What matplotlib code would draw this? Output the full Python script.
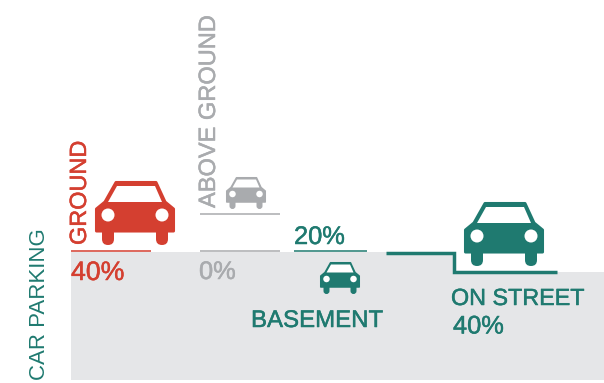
from matplotlib import pyplot as plt
from matplotlib.patches import Polygon, Circle, FancyBboxPatch
from matplotlib import patheffects as pe

categories = ['GROUND', 'ABOVE GROUND', 'BASEMENT', 'ON STREET']
shares = [40, 0, 20, 40]
title = 'CAR PARKING'

RED = '#d43f30'
GREY = '#a9abae'
TEAL = '#1f7a70'
AREA = '#e5e6e8'

plt.rcParams['font.family'] = ['Liberation Sans', 'DejaVu Sans']


def car(ax, x, y, w, col):
    # car is drawn in a 80 x 64 box, then scaled
    s = w / 80
    def pt(a, b):
        return (x + a * s, y + b * s)
    body = [(21, 1.5), (61, 1.5), (70, 21), (78.5, 28), (78.5, 50), (1.5, 50), (1.5, 28), (10, 21)]
    ax.add_patch(Polygon([pt(*p) for p in body], closed=True, fc=col, ec=col, lw=2.2 * s, joinstyle='round'))
    for a in (7, 61):
        ax.add_patch(FancyBboxPatch(pt(a + 6, 45), 0, 13 * s, boxstyle='round,pad=%f,rounding_size=%f' % (6 * s, 6 * s),
                                    fc=col, ec='none', mutation_aspect=1))
    glass = [(22, 5), (60, 5), (67, 21), (13, 21)]
    ax.add_patch(Polygon([pt(*p) for p in glass], closed=True, fc='white', ec='none'))
    for a in (13, 67):
        ax.add_patch(Circle(pt(a, 34), 6.5 * s, fc='white', ec='none'))


def label(ax, x, y, txt, col, size, **kw):
    t = ax.text(x, y, txt, color=col, fontsize=size, **kw)
    # reference type is a bit heavier than the regular face
    t.set_path_effects([pe.withStroke(linewidth=0.35, foreground=col)])


def main():
    fig = plt.figure(figsize=(6.04, 3.83), dpi=100)
    ax = fig.add_axes([0, 0, 1, 1])
    ax.set_xlim(0, 604)
    ax.set_ylim(383, 0)
    ax.axis('off')

    ax.add_patch(Polygon([(70.5, 252), (453, 252), (453, 272), (604, 272), (604, 380), (70.5, 380)],
                         closed=True, fc=AREA, ec='none'))

    ax.plot([71, 151], [251, 251], color=RED, lw=1.1, solid_capstyle='butt')
    ax.plot([200, 280], [251, 251], color=GREY, lw=1.1, solid_capstyle='butt')
    ax.plot([200, 280], [213.5, 213.5], color=GREY, lw=1.1, solid_capstyle='butt')
    ax.plot([294, 367], [251, 251], color=TEAL, lw=1.1, solid_capstyle='butt')
    ax.plot([386, 453.5, 453.5, 557], [252.5, 252.5, 271.7, 271.7], color=TEAL, lw=2.5,
            solid_capstyle='butt', solid_joinstyle='miter')

    car(ax, 95, 181, 80, RED)
    car(ax, 226, 177, 40, GREY)
    car(ax, 320, 262, 40, TEAL)
    car(ax, 464, 202, 80, TEAL)

    ax.text(40, 379.5, title, color=TEAL, fontsize=16, rotation=90, ha='center', va='bottom')
    label(ax, 79.5, 245, categories[0], RED, 16.9, rotation=90, ha='center', va='bottom')
    label(ax, 209, 208, categories[1], GREY, 17, rotation=90, ha='center', va='bottom')
    label(ax, 251, 327, categories[2], TEAL, 17.3, va='baseline')
    label(ax, 451, 305, categories[3], TEAL, 16.8, va='baseline')

    label(ax, 71, 280, '%d%%' % shares[0], RED, 19.2, va='baseline')
    label(ax, 199, 279, '%d%%' % shares[1], GREY, 18.3, va='baseline')
    label(ax, 294, 244, '%d%%' % shares[2], TEAL, 18.3, va='baseline')
    label(ax, 453, 333.5, '%d%%' % shares[3], TEAL, 18.3, va='baseline')

    fig.savefig('out.png', dpi=100)


if __name__ == "__main__":
    main()
